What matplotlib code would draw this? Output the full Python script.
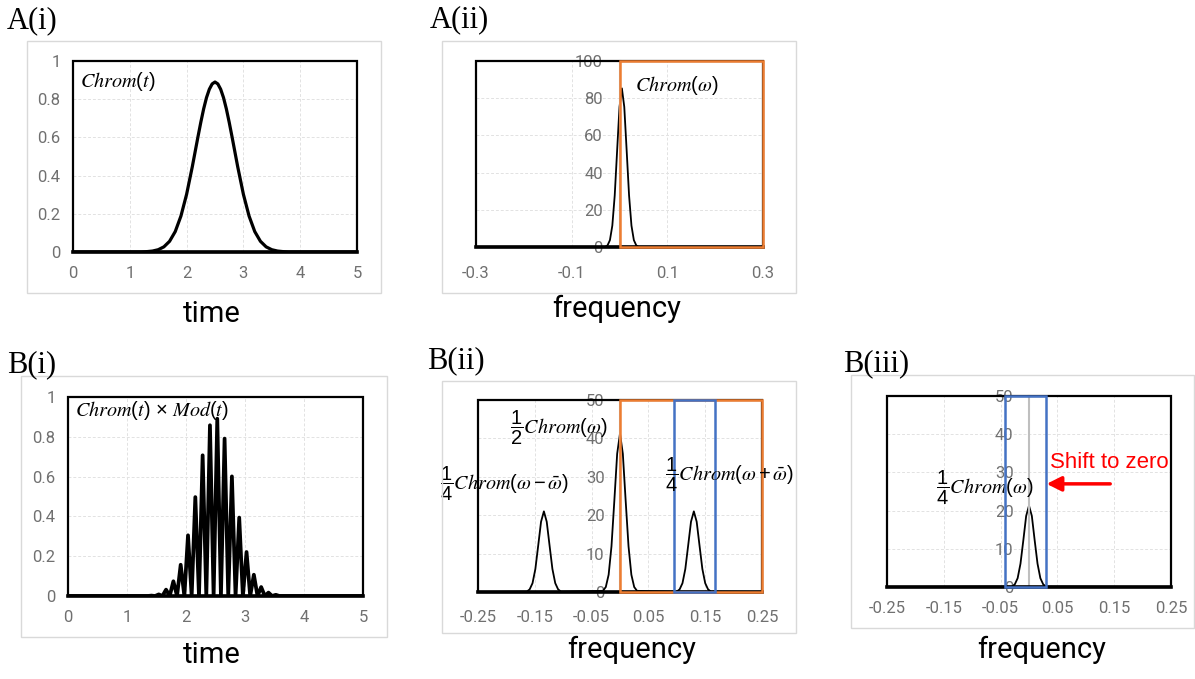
import matplotlib
matplotlib.use('Agg')
import matplotlib.pyplot as plt
from matplotlib.patches import Rectangle

plt.rcParams['font.family'] = ['Roboto', 'DejaVu Sans']
plt.rcParams['mathtext.fontset'] = 'custom'
plt.rcParams['mathtext.rm'] = 'Liberation Sans'
plt.rcParams['mathtext.it'] = 'STIXGeneral:italic'
plt.rcParams['mathtext.fallback'] = 'stix'

# ---- data ----
# A(i) chromatogram
chrom_t = [0.0, 1.2, 1.3, 1.4, 1.5, 1.6, 1.7, 1.8, 1.9, 2.0, 2.1, 2.2, 2.25, 2.3, 2.35, 2.4,
           2.45, 2.5, 2.55, 2.6, 2.65, 2.7, 2.75, 2.8, 2.9, 3.0, 3.1, 3.2, 3.3, 3.4, 3.5,
           3.6, 3.7, 3.8, 5.0]
chrom_v = [0.0, 0.0, 0.002, 0.005, 0.012, 0.027, 0.056, 0.107, 0.188, 0.302, 0.446, 0.603,
           0.679, 0.749, 0.808, 0.852, 0.880, 0.890, 0.880, 0.852, 0.808, 0.749, 0.679,
           0.603, 0.446, 0.302, 0.188, 0.107, 0.056, 0.027, 0.012, 0.005, 0.002, 0.0, 0.0]

# B(i) modulated chromatogram (peaks and troughs)
mod_t = [0.0, 1.352, 1.414, 1.476, 1.538, 1.600, 1.662, 1.724, 1.786, 1.848, 1.910, 1.972,
         2.034, 2.096, 2.158, 2.220, 2.282, 2.344, 2.406, 2.468, 2.530, 2.592, 2.654, 2.716,
         2.778, 2.840, 2.902, 2.964, 3.026, 3.088, 3.150, 3.212, 3.274, 3.336, 3.398, 3.460,
         3.522, 3.584, 5.0]
mod_v = [0.0, 0.0, 0.002, 0.0, 0.008, 0.0, 0.032, 0.0, 0.074, 0.0, 0.157, 0.0,
         0.305, 0.0, 0.497, 0.0, 0.707, 0.0, 0.858, 0.0, 0.891, 0.0, 0.791, 0.0,
         0.601, 0.0, 0.394, 0.0, 0.221, 0.0, 0.107, 0.0, 0.045, 0.0, 0.017, 0.0,
         0.006, 0.0, 0.0]

# A(ii) spectrum
specA_f = [-0.3, -0.03, -0.025, -0.02, -0.015, -0.01, -0.005, 0.0, 0.005, 0.01, 0.015,
           0.02, 0.025, 0.03, 0.035, 0.04, 0.3]
specA_v = [0, 0, 0.9, 3.7, 11.5, 27.7, 51.7, 75.3, 85.3, 75.3, 51.7, 27.7, 11.5, 3.7, 0.9, 0, 0]

# B(ii) spectrum: three peaks
specB_f = [-0.25, -0.164, -0.159, -0.154, -0.149, -0.144, -0.139, -0.134, -0.129, -0.124,
           -0.119, -0.114, -0.109, -0.104,
           -0.03, -0.025, -0.02, -0.015, -0.01, -0.005, 0.0, 0.005, 0.01, 0.015, 0.02,
           0.025, 0.03,
           0.100, 0.105, 0.110, 0.115, 0.120, 0.125, 0.130, 0.135, 0.140, 0.145, 0.150,
           0.155, 0.160, 0.25]
specB_v = [0, 0.1, 0.7, 2.3, 6.0, 12.1, 18.3, 21.0, 18.3, 12.1, 6.0, 2.3, 0.7, 0.1,
           0.3, 1.3, 4.5, 11.9, 23.7, 36.0, 41.3, 36.0, 23.7, 11.9, 4.5, 1.3, 0.3,
           0.1, 0.7, 2.3, 6.0, 12.1, 18.3, 21.0, 18.3, 12.1, 6.0, 2.3, 0.7, 0.1, 0]

# B(iii) shifted spectrum
specC_f = [-0.25, -0.03, -0.025, -0.02, -0.015, -0.01, -0.005, 0.0, 0.005, 0.01, 0.015,
           0.02, 0.025, 0.03, 0.25]
specC_v = [0, 0.1, 0.7, 2.3, 6.1, 12.2, 18.6, 21.3, 18.6, 12.2, 6.1, 2.3, 0.7, 0.1, 0]

time_ticks = [0, 1, 2, 3, 4, 5]
time_labels = ['0', '1', '2', '3', '4', '5']
amp_ticks = [0, 0.2, 0.4, 0.6, 0.8, 1.0]
amp_labels = ['0', '0.2', '0.4', '0.6', '0.8', '1']
fA_ticks = [-0.3, -0.1, 0.1, 0.3]
fA_labels = ['-0.3', '-0.1', '0.1', '0.3']
pA_ticks = [0, 20, 40, 60, 80, 100]
fB_ticks = [-0.25, -0.15, -0.05, 0.05, 0.15, 0.25]
fB_labels = ['-0.25', '-0.15', '-0.05', '0.05', '0.15', '0.25']
pB_ticks = [0, 10, 20, 30, 40, 50]

ORANGE = '#ED7D31'
BLUE = '#4472C4'
TICKC = '#707070'
MATHSIZE = 14.5

W, H = 1195, 679
fig = plt.figure(figsize=(W / 100, H / 100), dpi=100)


def px_axes(x0, y0, x1, y1):
    return fig.add_axes([x0 / W, 1 - y1 / H, (x1 - x0) / W, (y1 - y0) / H])


def frame(x0, y0, x1, y1):
    fig.add_artist(Rectangle((x0 / W, 1 - y1 / H), (x1 - x0) / W, (y1 - y0) / H,
                             transform=fig.transFigure, fill=False, ec='#d9d9d9', lw=1))


def style(ax, xticks, xlabels, yticks, ylabels, ypad_at_zero=False, xpad=10, ypad=9):
    ax.set_xticks(xticks)
    ax.set_xticklabels(xlabels)
    ax.set_yticks(yticks)
    ax.set_yticklabels(ylabels)
    ax.grid(True, color='#e2e2e2', lw=0.7, ls=(0, (3, 2)))
    ax.set_axisbelow(True)
    for s in ax.spines.values():
        s.set_visible(False)
    ax.add_patch(Rectangle((0, 0), 1, 1, transform=ax.transAxes, fill=False,
                           ec='black', lw=1.6, zorder=3, clip_on=False))
    ax.axhline(0, color='black', lw=2.6, zorder=3, clip_on=False)
    if ypad_at_zero:
        ax.spines['left'].set_visible(True)
        ax.spines['left'].set_position(('data', 0))
        ax.spines['left'].set_color('#bfbfbf')
        ax.spines['left'].set_linewidth(1.5)
    ax.tick_params(length=0, labelsize=12, labelcolor=TICKC)
    ax.tick_params(axis='x', pad=xpad)
    ax.tick_params(axis='y', pad=ypad)


def label(x, y, s, **kw):
    fig.text(x / W, 1 - y / H, s, **kw)


# A(i)
frame(27, 41, 381, 293)
ax1 = px_axes(73, 61, 357, 252)
ax1.plot(chrom_t, chrom_v, color='black', lw=2.3, solid_joinstyle='round')
ax1.set_xlim(0, 5)
ax1.set_ylim(0, 1)
style(ax1, time_ticks, time_labels, amp_ticks, amp_labels)
ax1.text(0.12, 0.895, r'$Chrom(t)$', fontsize=MATHSIZE, va='center', ha='left')

# A(ii)
frame(442, 41, 796, 293)
ax2 = px_axes(476, 61, 763, 247)
ax2.plot(specA_f, specA_v, color='black', lw=1.3)
ax2.set_xlim(-0.3, 0.3)
ax2.set_ylim(0, 100)
style(ax2, fA_ticks, fA_labels, pA_ticks, [str(v) for v in pA_ticks],
      ypad_at_zero=True, xpad=14, ypad=12)
ax2.add_patch(Rectangle((0, 0), 0.3, 100, fill=False, ec=ORANGE, lw=1.8, zorder=4, clip_on=False))
ax2.text(0.032, 87, r'$Chrom(\omega)$', fontsize=MATHSIZE, va='center', ha='left')

# B(i)
frame(21, 376, 387, 637)
ax3 = px_axes(68, 397, 363, 596)
ax3.plot(mod_t, mod_v, color='black', lw=2.7, solid_joinstyle='round')
ax3.set_xlim(0, 5)
ax3.set_ylim(0, 1)
style(ax3, time_ticks, time_labels, amp_ticks, amp_labels)
ax3.text(0.12, 0.93, r'$Chrom(t)\,\times\,Mod(t)$', fontsize=MATHSIZE, va='center', ha='left')

# B(ii)
frame(442, 381, 796, 633)
ax4 = px_axes(478, 400, 762, 592)
ax4.plot(specB_f, specB_v, color='black', lw=1.3)
ax4.set_xlim(-0.25, 0.25)
ax4.set_ylim(0, 50)
style(ax4, fB_ticks, fB_labels, pB_ticks, [str(v) for v in pB_ticks],
      ypad_at_zero=True, xpad=13, ypad=11)
ax4.add_patch(Rectangle((0, 0), 0.25, 50, fill=False, ec=ORANGE, lw=1.8, zorder=4, clip_on=False))
ax4.add_patch(Rectangle((0.095, 0), 0.072, 50, fill=False, ec=BLUE, lw=1.8, zorder=5, clip_on=False))
ax4.text(-0.194, 42.7, r'$\dfrac{1}{2}Chrom(\omega)$', fontsize=MATHSIZE, va='center', ha='left')
ax4.text(-0.317, 28.1, r'$\dfrac{1}{4}Chrom(\omega-\bar{\omega})$', fontsize=MATHSIZE,
         va='center', ha='left', clip_on=False)
ax4.text(0.079, 30.5, r'$\dfrac{1}{4}Chrom(\omega+\bar{\omega})$', fontsize=MATHSIZE,
         va='center', ha='left', clip_on=False, zorder=6)

# B(iii)
frame(851, 375, 1194, 628)
ax5 = px_axes(887, 396, 1171, 587)
ax5.plot(specC_f, specC_v, color='black', lw=1.3)
ax5.set_xlim(-0.25, 0.25)
ax5.set_ylim(0, 50)
style(ax5, fB_ticks, fB_labels, pB_ticks, [str(v) for v in pB_ticks],
      ypad_at_zero=True, xpad=10, ypad=11)
ax5.add_patch(Rectangle((-0.042, 0), 0.072, 50, fill=False, ec=BLUE, lw=1.8, zorder=5, clip_on=False))
ax5.text(-0.164, 25.9, r'$\dfrac{1}{4}Chrom(\omega)$', fontsize=MATHSIZE, va='center', ha='left')
ax5.text(0.037, 32.7, 'Shift to zero', color='red', fontsize=16, va='center', ha='left',
         family=['Liberation Sans'])
ax5.annotate('', xy=(0.031, 27), xytext=(0.143, 27),
             arrowprops=dict(arrowstyle='-|>', color='red', lw=2.5, mutation_scale=22,
                             shrinkA=0, shrinkB=0))

# panel letters and axis titles
serif = ['Liberation Serif']
for x, y, s in [(7, 28, 'A(i)'), (430, 27, 'A(ii)'), (7, 372, 'B(i)'),
                (427, 368, 'B(ii)'), (843, 371, 'B(iii)')]:
    label(x, y, s, fontsize=22, family=serif, va='baseline', ha='left')

for x, y, s in [(212, 322, 'time'), (617, 317, 'frequency'), (212, 663, 'time'),
                (632, 658, 'frequency'), (1042, 658, 'frequency')]:
    label(x, y, s, fontsize=21, va='baseline', ha='center')

fig.savefig('out.png', dpi=100)
